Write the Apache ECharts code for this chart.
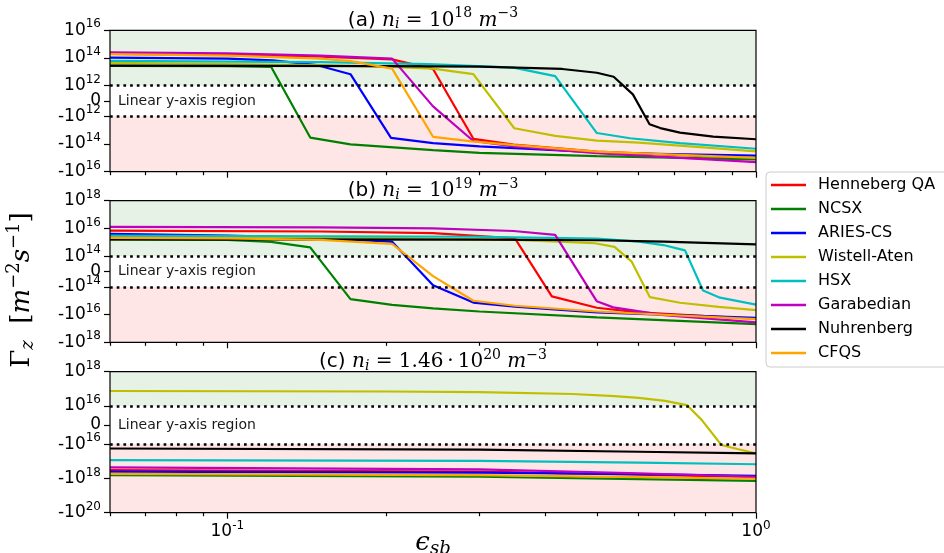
<!DOCTYPE html>
<html><head><meta charset="utf-8">
<script src="https://cdn.jsdelivr.net/npm/echarts@6/dist/echarts.min.js"></script>
<style>html,body{margin:0;padding:0;background:#fff}#c{width:944px;height:553px}</style>
</head><body><div id="c"></div>
<script>
// ---------------- DATA ----------------
const seriesNames = ['Henneberg QA','NCSX','ARIES-CS','Wistell-Aten','HSX','Garabedian','Nuhrenberg','CFQS'];
const seriesColors = ['#ff0000','#008000','#0000ff','#bfbf00','#00bfbf','#bf00bf','#000000','#ffa500'];

// x range and ticks (epsilon_sb, log axis)
const xRange = [0.06, 1];
const xMajorTicks = [0.1, 1];
const xMajorLabels = ['10^-1', '10^0'];
const xMinorTicks = [0.06,0.07,0.08,0.09,0.2,0.3,0.4,0.5,0.6,0.7,0.8,0.9];

// symlog thresholds, ranges, ticks per panel
const linthresh = [1e12, 1e14, 1e16];
const yRangeA = [-1e16, 1e16];
const yRangeB = [-1e18, 1e18];
const yRangeC = [-1e20, 1e18];
const yTicksA = [1e16, 1e14, 1e12, 0, -1e12, -1e14, -1e16];
const yTickLabelsA = ['10^16','10^14','10^12','0','-10^12','-10^14','-10^16'];
const yTicksB = [1e18, 1e16, 1e14, 0, -1e14, -1e16, -1e18];
const yTickLabelsB = ['10^18','10^16','10^14','0','-10^14','-10^16','-10^18'];
const yTicksC = [1e18, 1e16, 0, -1e16, -1e18, -1e20];
const yTickLabelsC = ['10^18','10^16','0','-10^16','-10^18','-10^20'];

// panel (a): n_i = 1e18  [eps_sb, Gamma_z]
const a_HennebergQA = [[0.06,1.95e14],[0.1,1.7e14],[0.15,1.25e14],[0.205,8e13],[0.245,1.6e13],[0.292,-4.2e13],[0.348,-1.1e14],[0.5,-3.5e14],[1,-1.07e15]];
const a_NCSX = [[0.06,2.7e13],[0.1,2.6e13],[0.121,2.3e13],[0.1435,-3.4e13],[0.171,-1.05e14],[0.245,-2.8e14],[0.3,-4.3e14],[0.5,-7.5e14],[1,-1.3e15]];
const a_ARIESCS = [[0.06,1.07e14],[0.1,9e13],[0.122,6.8e13],[0.148,3e13],[0.171,6.7e12],[0.204,-3.6e13],[0.245,-8.5e13],[0.3,-1.5e14],[0.35,-2e14],[0.54,-4.5e14],[1,-7e14]];
const a_WistellAten = [[0.06,4.4e13],[0.15,3e13],[0.204,2.3e13],[0.245,1.7e13],[0.292,6.7e12],[0.349,-7.2e12],[0.417,-2.6e13],[0.5,-5.6e13],[0.6,-8e13],[0.83,-1.95e14],[1,-3.4e14]];
const a_HSX = [[0.06,6.2e13],[0.15,5e13],[0.24,3.6e13],[0.348,2e13],[0.417,4.9e12],[0.5,-1.6e13],[0.578,-3.8e13],[0.718,-8.5e13],[1,-2.2e14]];
const a_Garabedian = [[0.06,2.5e14],[0.1,2.2e14],[0.15,1.5e14],[0.205,9e13],[0.245,-3.5e11],[0.292,-6e13],[0.348,-1.5e14],[0.5,-4.5e14],[1,-2e15]];
const a_Nuhrenberg = [[0.06,2.8e13],[0.2,2.6e13],[0.3,2.4e13],[0.43,1.6e13],[0.5,8.5e12],[0.538,4.4e12],[0.585,4.3e11],[0.629,-3.7e12],[0.659,-7e12],[0.718,-1.5e13],[0.83,-2.9e13],[1,-4.5e13]];
const a_CFQS = [[0.06,1.9e14],[0.1,1.5e14],[0.15,9e13],[0.171,5.9e13],[0.205,1.7e13],[0.245,-3e13],[0.29,-6.5e13],[0.35,-1.2e14],[0.5,-3.5e14],[1,-1e15]];

// panel (b): n_i = 1e19
const b_HennebergQA = [[0.06,6.8e15],[0.15,6e15],[0.245,4.5e15],[0.35,1.9e15],[0.411,-4.8e14],[0.5,-3.2e15],[0.6,-7e15],[1,-2e16]];
const b_NCSX = [[0.06,1.6e15],[0.1,1.5e15],[0.121,1.05e15],[0.1435,4.3e14],[0.171,-7.6e14],[0.205,-2e15],[0.245,-3.5e15],[0.3,-6e15],[0.5,-1.6e16],[1,-4.8e16]];
const b_ARIESCS = [[0.06,4e15],[0.1,3e15],[0.15,2e15],[0.205,1.1e15],[0.245,-9e13],[0.292,-1.35e15],[0.35,-2.7e15],[0.5,-7e15],[1,-1.7e16]];
const b_WistellAten = [[0.06,2.5e15],[0.2,2e15],[0.35,1.5e15],[0.496,8.5e14],[0.54,4.6e14],[0.582,6.4e13],[0.63,-5.5e14],[0.718,-1.4e15],[0.85,-2.8e15],[1,-4.7e15]];
const b_HSX = [[0.06,3e15],[0.3,2.5e15],[0.5,1.8e15],[0.6,1.1e15],[0.668,6.3e14],[0.734,2.6e14],[0.794,-1.8e14],[0.855,-6e14],[1,-1.9e15]];
const b_Garabedian = [[0.06,1.3e16],[0.15,1.2e16],[0.245,1e16],[0.348,6.5e15],[0.417,3.4e15],[0.5,-1.1e15],[0.537,-3e15],[0.67,-1.1e16],[1,-3.6e16]];
const b_Nuhrenberg = [[0.06,1.6e15],[0.3,1.55e15],[0.5,1.4e15],[0.67,1.1e15],[0.8,9e14],[1,7e14]];
const b_CFQS = [[0.06,2.1e15],[0.1,1.9e15],[0.15,1.5e15],[0.205,7.5e14],[0.245,-3e13],[0.292,-1e15],[0.35,-2.3e15],[0.5,-6e15],[1,-2.1e16]];

// panel (c): n_i = 1.46e20
const c_HennebergQA = [[0.06,-3.3e17],[0.3,-4e17],[0.6,-6e17],[1,-8.5e17]];
const c_NCSX = [[0.06,-6.5e17],[0.3,-8e17],[0.6,-1.1e18],[1,-1.4e18]];
const c_ARIESCS = [[0.06,-4e17],[0.3,-4.6e17],[0.6,-5.6e17],[1,-7e17]];
const c_WistellAten = [[0.06,7.5e16],[0.2,7e16],[0.3,6.5e16],[0.45,5e16],[0.54,3.8e16],[0.6,3e16],[0.673,2e16],[0.74,1.13e16],[0.79,2.6e15],[0.86,-1.13e16],[0.926,-2e16],[1,-3.5e16]];
const c_HSX = [[0.06,-8.5e16],[0.3,-9.5e16],[0.6,-1.2e17],[1,-1.5e17]];
const c_Garabedian = [[0.06,-2.3e17],[0.3,-3e17],[0.6,-5e17],[1,-8e17]];
const c_Nuhrenberg = [[0.06,-1.8e16],[0.3,-2.1e16],[0.6,-2.8e16],[1,-3.5e16]];
const c_CFQS = [[0.06,-5.5e17],[0.3,-6.5e17],[0.6,-8.5e17],[1,-1.05e18]];

const panelTitles = [
  ['(a) ', '10', '18'],
  ['(b) ', '10', '19'],
  ['(c) ', '1.46\u2009\u00b7\u200910', '20']
];
const linearRegionText = 'Linear y-axis region';

// ---------------- BUILD ----------------
const panels = [
  {data:[a_HennebergQA,a_NCSX,a_ARIESCS,a_WistellAten,a_HSX,a_Garabedian,a_Nuhrenberg,a_CFQS], range:yRangeA, ticks:yTicksA, labels:yTickLabelsA},
  {data:[b_HennebergQA,b_NCSX,b_ARIESCS,b_WistellAten,b_HSX,b_Garabedian,b_Nuhrenberg,b_CFQS], range:yRangeB, ticks:yTicksB, labels:yTickLabelsB},
  {data:[c_HennebergQA,c_NCSX,c_ARIESCS,c_WistellAten,c_HSX,c_Garabedian,c_Nuhrenberg,c_CFQS], range:yRangeC, ticks:yTicksC, labels:yTickLabelsC}
];
const LS = 1 / (1 - 1 / 10);
function symlog(v, L) {
  const a = Math.abs(v);
  return a <= L ? (v / L) * LS : Math.sign(v) * (LS + Math.log10(a / L));
}
function richPow(label) {
  const i = label.indexOf('^');
  if (i < 0) return '{b|' + label + '}';
  return '{b|' + label.slice(0, i) + '}{s|' + label.slice(i + 1) + '}';
}
const tickRich = {
  b: {fontSize: 17, fontFamily: 'DejaVu Sans', color: '#000'},
  s: {fontSize: 12, fontFamily: 'DejaVu Sans', color: '#000', padding: [0, 0, 12, 0]}
};
const gridTops = [30.3, 200.7, 371.7];
const gridHeights = [141.4, 141.6, 141];
const GL = 110, GW = 646;
const tickLine = {color: '#000', width: 1.2};

const grid = [], xAxis = [], yAxis = [], series = [];
const xMin = Math.log10(xRange[0]), xMax = Math.log10(xRange[1]);
panels.forEach((p, i) => {
  const L = linthresh[i];
  grid.push({left: GL, top: gridTops[i], width: GW, height: gridHeights[i], show: true,
    borderColor: '#000', borderWidth: 1.2, backgroundColor: 'transparent', z: 5});
  const majVals = xMajorTicks.map(Math.log10);
  xAxis.push({type: 'value', gridIndex: i, position: 'bottom', min: xMin, max: xMax,
    axisLine: {show: false, onZero: false}, splitLine: {show: false},
    axisTick: {show: true, customValues: majVals, length: 6, lineStyle: tickLine},
    axisLabel: {show: i === 2, customValues: majVals, margin: 7, rich: tickRich,
      formatter: v => { const k = majVals.findIndex(t => Math.abs(t - v) < 1e-6); return k < 0 ? '' : richPow(xMajorLabels[k]); }}
  });
  xAxis.push({type: 'value', gridIndex: i, position: 'bottom', offset: 0, min: xMin, max: xMax,
    axisLine: {show: false, onZero: false}, splitLine: {show: false},
    axisTick: {show: true, customValues: xMinorTicks.map(Math.log10), length: 3.5, lineStyle: tickLine},
    axisLabel: {show: false}
  });
  const tv = p.ticks.map(v => symlog(v, L));
  yAxis.push({type: 'value', gridIndex: i, position: 'left', min: symlog(p.range[0], L), max: symlog(p.range[1], L),
    axisLine: {show: false, onZero: false}, splitLine: {show: false},
    axisTick: {show: true, customValues: tv, length: 6, lineStyle: tickLine},
    axisLabel: {customValues: tv, margin: 9, rich: tickRich,
      formatter: v => { const k = tv.findIndex(t => Math.abs(t - v) < 1e-6); return k < 0 ? '' : richPow(p.labels[k]); }}
  });
  const yMaxT = symlog(p.range[1], L), yMinT = symlog(p.range[0], L);
  series.push({type: 'line', xAxisIndex: 2 * i, yAxisIndex: i, data: [], silent: true, z: 1,
    markArea: {silent: true, data: [
      [{yAxis: LS, itemStyle: {color: '#e6f2e6'}}, {yAxis: yMaxT}],
      [{yAxis: yMinT, itemStyle: {color: '#ffe6e6'}}, {yAxis: -LS}]
    ]},
    markLine: {silent: true, symbol: 'none', label: {show: false},
      lineStyle: {color: '#000', type: [2.7, 4], width: 2.7},
      data: [{yAxis: LS}, {yAxis: -LS}]}
  });
  p.data.forEach((arr, k) => {
    series.push({type: 'line', name: seriesNames[k], xAxisIndex: 2 * i, yAxisIndex: i, z: 2,
      symbol: 'none', showSymbol: false, color: seriesColors[k],
      lineStyle: {width: 2.2, color: seriesColors[k]},
      data: arr.map(([e, v]) => [Math.log10(e), symlog(v, L)])});
  });
});

const chart = echarts.init(document.getElementById('c'), null, {renderer: 'canvas'});
chart.setOption({
  animation: false,
  backgroundColor: '#fff',
  grid, xAxis, yAxis, series,
  legend: {data: seriesNames, orient: 'vertical', left: 766, top: 172,
    icon: 'rect', itemWidth: 35, itemHeight: 2.7, itemGap: 8,
    padding: [5, 20, 6, 5], borderColor: '#cccccc', borderWidth: 1, borderRadius: 4,
    backgroundColor: '#fff',
    textStyle: {fontSize: 16, fontFamily: 'DejaVu Sans', color: '#000', lineHeight: 16, padding: [0, 0, 0, 7]}}
});

// ---------------- TEXT ----------------
const titleRich = {
  t: {fontSize: 20, fontFamily: 'DejaVu Sans'},
  i: {fontSize: 20, fontFamily: 'DejaVu Serif', fontStyle: 'italic'},
  r: {fontSize: 20, fontFamily: 'DejaVu Serif'},
  sup: {fontSize: 14, fontFamily: 'DejaVu Serif', padding: [0, 0, 13, 0]},
  sub: {fontSize: 14, fontFamily: 'DejaVu Serif', fontStyle: 'italic', padding: [9, 0, 0, 0]}
};
const graphic = [];
panels.forEach((p, i) => {
  const [lab, base, exp] = panelTitles[i];
  graphic.push({type: 'text', x: GL + GW / 2, y: gridTops[i] - 10, z: 20,
    style: {text: '{t|' + lab + '}{i|n}{sub|i}{r| = ' + base + '}{sup|' + exp + '}{i| m}{sup|\u22123}',
      rich: titleRich, align: 'center', verticalAlign: 'middle', fill: '#000'}});
  const pt = chart.convertToPixel({xAxisIndex: 2 * i, yAxisIndex: i}, [xMin, 0]);
  graphic.push({type: 'text', x: pt[0] + 8, y: pt[1], z: 20,
    style: {text: linearRegionText, fontSize: 14, fontFamily: 'DejaVu Sans', fill: '#1a1a1a',
      align: 'left', verticalAlign: 'middle'}});
});
graphic.push({type: 'text', x: 22, y: 290, rotation: Math.PI / 2, z: 20,
  style: {text: '{r|\u0393}{sub|z}{r|  [}{i|m}{sup|\u22122}{i|s}{sup|\u22121}{r|]}',
    align: 'center', verticalAlign: 'middle', fill: '#000',
    rich: {
      i: {fontSize: 26, fontFamily: 'DejaVu Serif', fontStyle: 'italic'},
      r: {fontSize: 26, fontFamily: 'DejaVu Serif'},
      sup: {fontSize: 18, fontFamily: 'DejaVu Serif', padding: [0, 0, 16, 0]},
      sub: {fontSize: 18, fontFamily: 'DejaVu Serif', fontStyle: 'italic', padding: [12, 0, 0, 0]}
    }}});
graphic.push({type: 'text', x: GL + GW / 2, y: 543, z: 20,
  style: {text: '{i|\u03f5}{sub|sb}', align: 'center', verticalAlign: 'middle', fill: '#000',
    rich: {
      i: {fontSize: 26, fontFamily: 'DejaVu Serif', fontStyle: 'italic'},
      sub: {fontSize: 18, fontFamily: 'DejaVu Serif', fontStyle: 'italic', padding: [12, 0, 0, 0]}
    }}});
chart.setOption({graphic});
</script>
</body></html>
